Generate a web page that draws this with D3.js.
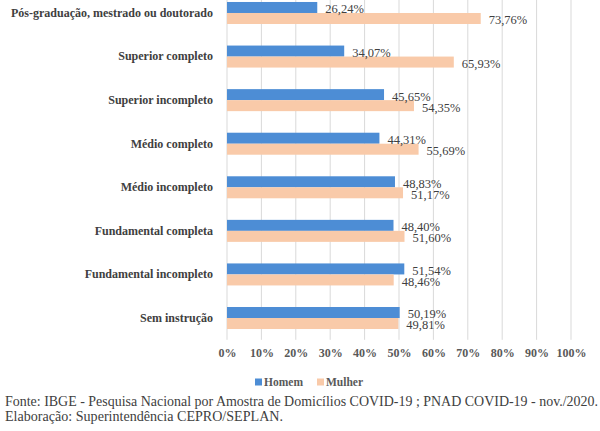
<!DOCTYPE html>
<html>
<head>
<meta charset="utf-8">
<script src="https://cdn.jsdelivr.net/npm/d3@7"></script>
<style>
  body { margin: 0; background: #fff; }
</style>
</head>
<body>
<div class="canvas"></div>
<script>
// data
const categories = [
  'Pós-graduação, mestrado ou doutorado',
  'Superior completo',
  'Superior incompleto',
  'Médio completo',
  'Médio incompleto',
  'Fundamental completa',
  'Fundamental incompleto',
  'Sem instrução'
];
const homem = [26.24, 34.07, 45.65, 44.31, 48.83, 48.40, 51.54, 50.19];
const mulher = [73.76, 65.93, 54.35, 55.69, 51.17, 51.60, 48.46, 49.81];
const seriesNames = ['Homem', 'Mulher'];
const xTicks = [0, 10, 20, 30, 40, 50, 60, 70, 80, 90, 100];
const footer = [
  'Fonte: IBGE - Pesquisa Nacional por Amostra de Domicílios COVID-19 ; PNAD COVID-19 - nov./2020.',
  'Elaboração: Superintendência CEPRO/SEPLAN.'
];

const dims = {
  width: 600, height: 431, left: 227, right: 571, top: -8.8, bottom: 339.8,
  font: "'Liberation Serif', 'DejaVu Serif', serif"
};
const color = d3.scaleOrdinal().domain(seriesNames).range(['#4d8dd5', '#f9caa9']);
const fmt = (v) => v.toFixed(2).replace('.', ',') + '%';

const svg = d3.select('.canvas').append('svg')
  .attr('width', dims.width)
  .attr('height', dims.height);

// scales
const x = d3.scaleLinear().domain([0, 100]).range([dims.left, dims.right]);
const y = d3.scaleBand().domain(categories).range([dims.top, dims.bottom])
  .paddingInner(0.495).paddingOuter(0.2475);
const ySub = d3.scaleBand().domain(seriesNames).range([0, y.bandwidth()]);

// gridlines
svg.append('g').selectAll('line').data(xTicks).join('line')
  .attr('x1', (d) => x(d)).attr('x2', (d) => x(d))
  .attr('y1', 0).attr('y2', dims.bottom)
  .attr('stroke', '#d9d9d9').attr('stroke-width', 1);

// x axis labels
const xAxis = d3.axisBottom(x).tickValues(xTicks).tickFormat((d) => d + '%').tickSize(0).tickPadding(9);
const xAxisGroup = svg.append('g').attr('transform', `translate(0, ${dims.bottom})`).call(xAxis);
xAxisGroup.select('.domain').remove();
xAxisGroup.selectAll('text')
  .style('font-family', dims.font)
  .style('font-size', '12px')
  .style('font-weight', 'bold')
  .attr('fill', '#595959');

// y axis labels
const yAxis = d3.axisLeft(y).tickSize(0).tickPadding(14);
const yAxisGroup = svg.append('g').attr('transform', `translate(${dims.left}, 0)`).call(yAxis);
yAxisGroup.select('.domain').remove();
yAxisGroup.selectAll('text')
  .style('font-family', dims.font)
  .style('font-size', '12px')
  .style('font-weight', 'bold')
  .attr('fill', '#404040');

// bars
const rows = categories.map((c, i) => ({ cat: c, values: [
  { key: 'Homem', value: homem[i] },
  { key: 'Mulher', value: mulher[i] }
]}));

const groups = svg.append('g').selectAll('g').data(rows).join('g')
  .attr('transform', (d) => `translate(0, ${y(d.cat)})`);

groups.selectAll('rect').data((d) => d.values).join('rect')
  .attr('x', x(0))
  .attr('y', (d) => ySub(d.key))
  .attr('width', (d) => x(d.value) - x(0))
  .attr('height', ySub.bandwidth())
  .attr('fill', (d) => color(d.key));

groups.selectAll('text').data((d) => d.values).join('text')
  .attr('x', (d) => x(d.value) + 8)
  .attr('y', (d) => ySub(d.key) + ySub.bandwidth() / 2 + 1.5)
  .attr('dy', '0.35em')
  .attr('fill', '#404040')
  .style('font-family', dims.font)
  .style('font-size', '12.5px')
  .text((d) => fmt(d.value));

// legend
const legend = svg.append('g').attr('transform', 'translate(255, 382)');
const legendX = [0, 62];
seriesNames.forEach((name, i) => {
  const g = legend.append('g').attr('transform', `translate(${legendX[i]}, 0)`);
  g.append('rect').attr('x', 0).attr('y', -3.5).attr('width', 7).attr('height', 7).attr('fill', color(name));
  g.append('text').attr('x', 9).attr('y', 0).attr('dy', '0.35em')
    .attr('fill', '#595959')
    .style('font-family', dims.font)
    .style('font-size', '11.5px')
    .style('font-weight', 'bold')
    .text(name);
});

// footer
const footerLen = [593, 278];
svg.append('g').selectAll('text').data(footer).join('text')
  .attr('x', 5)
  .attr('y', (d, i) => 406 + i * 15)
  .attr('fill', '#404040')
  .attr('textLength', (d, i) => footerLen[i])
  .attr('lengthAdjust', 'spacingAndGlyphs')
  .style('font-family', dims.font)
  .style('font-size', '14px')
  .text((d) => d);
</script>
</body>
</html>
